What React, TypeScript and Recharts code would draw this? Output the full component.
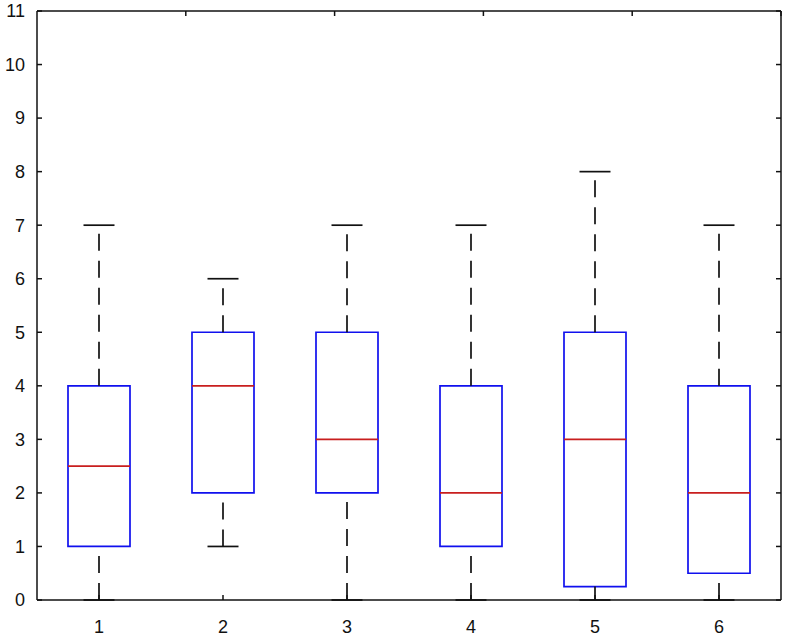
import {
  ComposedChart,
  ReferenceArea,
  ReferenceLine,
  Scatter,
  XAxis,
  YAxis,
} from "recharts";

const groups = [1, 2, 3, 4, 5, 6];
const mins = [0, 1, 0, 0, 0, 0];
const q1s = [1, 2, 2, 1, 0.25, 0.5];
const medians = [2.5, 4, 3, 2, 3, 2];
const q3s = [4, 5, 5, 4, 5, 4];
const maxs = [7, 6, 7, 7, 8, 7];
const yTicks = [0, 1, 2, 3, 4, 5, 6, 7, 8, 9, 10, 11];

const BOX_HALF = 0.25;
const CAP_HALF = 0.125;

const boxColor = "#1010ee";
const medianColor = "#c81e1e";
const axisStyle = { stroke: "#111", strokeWidth: 1.5 };
const tickFont = { fill: "#111", fontSize: 18, fontFamily: "Liberation Sans, Arial, sans-serif" };

const medianPoints = groups.map((g, i) => ({ x: g, y: medians[i] }));

const App = () => {
  return (
    <div style={{ position: "absolute", left: 0, top: 0, background: "#fff" }}>
      <ComposedChart
        width={787}
        height={638}
        data={medianPoints}
        margin={{ top: 0, right: 0, bottom: 0, left: 0 }}
      >
        <XAxis
          xAxisId={0}
          dataKey="x"
          type="number"
          domain={[0.5, 6.5]}
          ticks={groups}
          height={38}
          axisLine={axisStyle}
          tickLine={axisStyle}
          tickSize={-5}
          tickMargin={25}
          tick={tickFont}
          allowDataOverflow
        />
        <XAxis
          xAxisId="top"
          orientation="top"
          type="number"
          domain={[0.5, 6.5]}
          ticks={groups}
          height={11}
          axisLine={axisStyle}
          tickLine={axisStyle}
          tickSize={-5}
          tickFormatter={() => ""}
          allowDataOverflow
        />
        <YAxis
          yAxisId={0}
          dataKey="y"
          type="number"
          domain={[0, 11]}
          ticks={yTicks}
          width={37}
          axisLine={axisStyle}
          tickLine={axisStyle}
          tickSize={-5}
          tickMargin={17}
          tick={tickFont}
          allowDataOverflow
        />
        <YAxis
          yAxisId="right"
          orientation="right"
          type="number"
          domain={[0, 11]}
          ticks={yTicks}
          width={6}
          axisLine={axisStyle}
          tickLine={axisStyle}
          tickSize={-5}
          tickFormatter={() => ""}
          allowDataOverflow
        />

        {/* whiskers are drawn upward, so the dash pattern starts at the low end */}
        {groups.map((g, i) => (
          <ReferenceLine
            key={`wl-${g}`}
            segment={[
              { x: g, y: mins[i] },
              { x: g, y: q1s[i] },
            ]}
            stroke="#111"
            strokeWidth={1.7}
            strokeDasharray="17 10"
          />
        ))}
        {groups.map((g, i) => (
          <ReferenceLine
            key={`wu-${g}`}
            segment={[
              { x: g, y: q3s[i] },
              { x: g, y: maxs[i] },
            ]}
            stroke="#111"
            strokeWidth={1.7}
            strokeDasharray="17 10"
          />
        ))}
        {groups.map((g, i) => (
          <ReferenceLine
            key={`cmin-${g}`}
            segment={[
              { x: g - CAP_HALF, y: mins[i] },
              { x: g + CAP_HALF, y: mins[i] },
            ]}
            stroke="#111"
            strokeWidth={1.7}
          />
        ))}
        {groups.map((g, i) => (
          <ReferenceLine
            key={`cmax-${g}`}
            segment={[
              { x: g - CAP_HALF, y: maxs[i] },
              { x: g + CAP_HALF, y: maxs[i] },
            ]}
            stroke="#111"
            strokeWidth={1.7}
          />
        ))}
        {groups.map((g, i) => (
          <ReferenceArea
            key={`box-${g}`}
            x1={g - BOX_HALF}
            x2={g + BOX_HALF}
            y1={q1s[i]}
            y2={q3s[i]}
            stroke={boxColor}
            strokeWidth={1.7}
            fill="none"
            fillOpacity={0}
          />
        ))}
        {groups.map((g, i) => (
          <ReferenceLine
            key={`med-${g}`}
            segment={[
              { x: g - BOX_HALF, y: medians[i] },
              { x: g + BOX_HALF, y: medians[i] },
            ]}
            stroke={medianColor}
            strokeWidth={1.7}
          />
        ))}

        <Scatter
          dataKey="y"
          isAnimationActive={false}
          shape={() => <g />}
        />
      </ComposedChart>
    </div>
  );
};

export default App;
